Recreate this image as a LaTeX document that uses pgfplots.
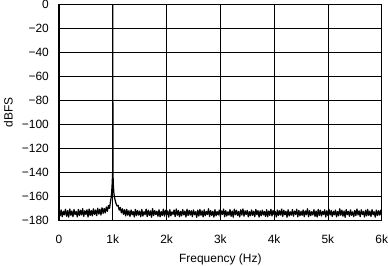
\documentclass[border=0pt]{standalone}
\usepackage{fontspec}
\setmainfont{Liberation Sans}
\usepackage{pgfplots}
\pgfplotsset{compat=1.18}
\usepackage{pgfplotstable}
\pgfplotstableread{
x y
0 -172.0
20 -176.2
40 -171.3
60 -177.0
80 -172.5
100 -175.4
120 -170.8
140 -176.6
160 -171.9
180 -177.3
200 -170.5
220 -175.8
240 -172.2
260 -176.9
280 -171.0
300 -175.2
320 -172.7
340 -177.1
360 -170.9
380 -176.0
400 -171.6
420 -175.5
440 -170.3
460 -176.7
480 -172.1
500 -175.1
520 -171.2
540 -177.2
560 -170.6
580 -175.9
600 -171.8
620 -176.3
640 -170.4
660 -175.0
680 -171.4
700 -176.1
720 -169.9
740 -174.8
760 -170.7
780 -175.6
800 -169.5
820 -174.2
840 -170.1
860 -173.9
880 -168.9
900 -172.5
920 -167.6
940 -170.0
955 -165.0
970 -161.0
980 -156.0
988 -150.0
993 -145.0
997 -141.0
1000 0
1003 -139.5
1007 -146.0
1012 -152.0
1020 -157.0
1030 -160.5
1045 -163.5
1060 -166.0
1080 -168.0
1100 -167.5
1120 -171.5
1140 -169.3
1160 -173.8
1180 -170.4
1200 -175.0
1220 -171.1
1240 -176.3
1260 -170.8
1280 -175.7
1300 -172.0
1320 -176.8
1340 -171.3
1360 -175.4
1380 -172.6
1400 -177.2
1420 -170.9
1440 -176.1
1460 -171.7
1480 -175.6
1500 -172.3
1520 -177.0
1540 -171.0
1560 -176.4
1580 -172.8
1600 -175.3
1620 -170.6
1640 -176.9
1660 -171.5
1680 -175.8
1700 -172.1
1720 -177.4
1740 -170.2
1760 -176.0
1780 -171.9
1800 -175.2
1820 -172.4
1840 -176.6
1860 -171.2
1880 -177.1
1900 -172.7
1920 -175.9
1940 -170.7
1960 -176.5
1980 -171.6
2000 -175.5
2020 -172.2
2040 -177.3
2060 -171.1
2080 -176.2
2100 -172.9
2120 -175.1
2140 -171.4
2160 -176.8
2180 -170.5
2200 -175.7
2220 -171.8
2240 -177.0
2260 -172.5
2280 -176.3
2300 -171.0
2320 -175.4
2340 -172.3
2360 -177.2
2380 -170.8
2400 -176.0
2420 -171.7
2440 -175.6
2460 -172.0
2480 -176.9
2500 -171.3
2520 -175.3
2540 -172.8
2560 -177.5
2580 -171.5
2600 -176.4
2620 -170.9
2640 -175.8
2660 -172.1
2680 -177.1
2700 -171.2
2720 -176.1
2740 -172.6
2760 -175.2
2780 -170.4
2800 -176.7
2820 -171.9
2840 -175.9
2860 -172.4
2880 -177.3
2900 -171.1
2920 -176.2
2940 -172.7
2960 -175.5
2980 -171.4
3000 -176.8
3020 -172.2
3040 -175.0
3060 -170.6
3080 -177.0
3100 -171.8
3120 -176.3
3140 -172.9
3160 -175.7
3180 -171.0
3200 -176.6
3220 -172.3
3240 -177.4
3260 -170.7
3280 -175.4
3300 -171.6
3320 -176.0
3340 -172.5
3360 -177.2
3380 -171.2
3400 -175.6
3420 -170.5
3440 -176.5
3460 -172.0
3480 -175.1
3500 -171.7
3520 -177.1
3540 -172.8
3560 -176.2
3580 -171.3
3600 -175.8
3620 -172.4
3640 -176.9
3660 -170.9
3680 -175.3
3700 -171.9
3720 -177.3
3740 -172.1
3760 -176.1
3780 -171.5
3800 -175.5
3820 -172.6
3840 -176.7
3860 -171.1
3880 -177.0
3900 -172.2
3920 -175.9
3940 -170.8
3960 -176.4
3980 -171.8
4000 -175.2
4020 -172.7
4040 -177.2
4060 -171.4
4080 -176.0
4100 -172.0
4120 -175.6
4140 -170.6
4160 -176.8
4180 -171.6
4200 -175.4
4220 -172.4
4240 -177.4
4260 -171.2
4280 -176.3
4300 -172.9
4320 -175.7
4340 -171.0
4360 -176.6
4380 -172.3
4400 -175.1
4420 -170.7
4440 -177.1
4460 -171.7
4480 -176.2
4500 -172.5
4520 -175.8
4540 -171.3
4560 -176.9
4580 -172.1
4600 -175.3
4620 -170.4
4640 -177.0
4660 -171.9
4680 -176.1
4700 -172.8
4720 -175.5
4740 -171.1
4760 -176.7
4780 -172.2
4800 -177.3
4820 -170.9
4840 -175.9
4860 -171.5
4880 -176.4
4900 -172.6
4920 -175.2
4940 -171.2
4960 -177.2
4980 -172.0
5000 -176.0
5020 -170.8
5040 -175.6
5060 -171.8
5080 -176.8
5100 -172.4
5120 -175.4
5140 -171.4
5160 -177.1
5180 -172.7
5200 -176.2
5220 -170.3
5240 -175.7
5260 -171.6
5280 -176.5
5300 -172.2
5320 -177.4
5340 -171.0
5360 -175.3
5380 -172.5
5400 -176.6
5420 -171.3
5440 -175.8
5460 -172.9
5480 -177.0
5500 -171.7
5520 -176.1
5540 -170.6
5560 -175.5
5580 -172.1
5600 -176.9
5620 -171.2
5640 -175.2
5660 -172.6
5680 -177.2
5700 -171.5
5720 -176.3
5740 -170.9
5760 -175.9
5780 -172.3
5800 -176.7
5820 -171.1
5840 -175.4
5860 -172.8
5880 -177.3
5900 -171.4
5920 -176.0
5940 -172.0
5960 -175.6
5980 -171.6
6000 -176.4
}\fft
\begin{document}
\fontsize{12bp}{14bp}\selectfont
\begin{tikzpicture}
\begin{axis}[
  scale only axis,
  width=324bp, height=217bp,
  xmin=0, xmax=6000, ymin=-180, ymax=0,
  xtick={0,1000,2000,3000,4000,5000,6000},
  xticklabels={0,1k,2k,3k,4k,5k,6k},
  ytick={-180,-160,-140,-120,-100,-80,-60,-40,-20,0},
  yticklabels={−180,−160,−140,−120,−100,−80,−60,−40,−20,0},
  scaled x ticks=false,
  grid=major,
  major grid style={black, line width=0.8bp},
  axis line style={black, line width=1.4bp},
  major tick length=0pt,
  tick label style={font=\fontsize{12bp}{14bp}\selectfont},
  label style={font=\fontsize{12bp}{14bp}\selectfont},
  xticklabel style={inner sep=0pt, yshift=-14.5bp},
  yticklabel style={inner sep=0pt, xshift=-10bp},
  xlabel={Frequency (Hz)},
  ylabel={dBFS},
  xlabel style={inner ysep=0pt, yshift=-10bp},
  ylabel shift=5bp,
]
\addplot[black, line width=1.25bp, line join=round] table[x=x,y=y] {\fft};
\end{axis}
\end{tikzpicture}
\end{document}
